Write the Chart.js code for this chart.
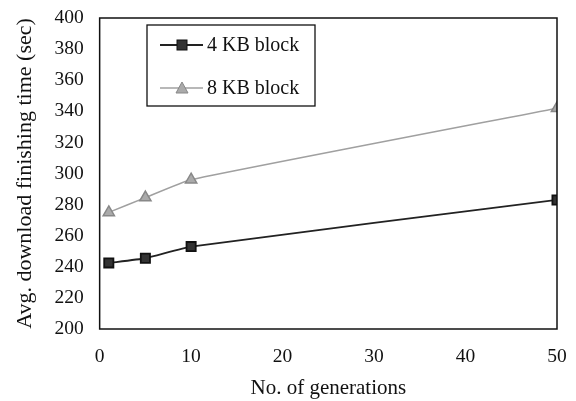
<!DOCTYPE html>
<html>
<head>
<meta charset="utf-8">
<script src="https://cdn.jsdelivr.net/npm/chart.js@4"></script>
<style>
  html, body { margin: 0; padding: 0; background: #fff; }
  #c { display: block; }
</style>
</head>
<body>
<canvas id="c" width="576" height="401"></canvas>
<script>
// data
const generations = [1, 5, 10, 50];
const block4kb = [242.5, 245.5, 253, 283];
const block8kb = [275, 284.5, 296, 342];
const seriesNames = ['4 KB block', '8 KB block'];
const xTicks = [0, 10, 20, 30, 40, 50];
const yTicks = [200, 220, 240, 260, 280, 300, 320, 340, 360, 380, 400];

const FONT = '"Liberation Serif", "DejaVu Serif", serif';

const toPoints = (ys) => generations.map((g, i) => ({ x: g, y: ys[i] }));

// frame round the plot plus the boxed legend inside it
const framePlugin = {
    id: 'frame',
    afterDraw(chart) {
        const ctx = chart.ctx;
        const a = chart.chartArea;
        ctx.save();
        ctx.strokeStyle = '#111';
        ctx.lineWidth = 1.5;
        ctx.strokeRect(a.left, a.top, a.right - a.left, a.bottom - a.top);

        // legend box
        const bx = 147, by = 25, bw = 168, bh = 81;
        ctx.lineWidth = 1.3;
        ctx.fillStyle = '#fff';
        ctx.fillRect(bx, by, bw, bh);
        ctx.strokeRect(bx, by, bw, bh);

        chart.data.datasets.forEach((ds, i) => {
            const cy = by + 20 + i * 43;
            const mx = bx + 35;
            ctx.strokeStyle = ds.borderColor;
            ctx.lineWidth = ds.borderWidth;
            ctx.beginPath();
            ctx.moveTo(bx + 13, cy);
            ctx.lineTo(bx + 56, cy);
            ctx.stroke();
            ctx.fillStyle = ds.pointBackgroundColor;
            ctx.strokeStyle = ds.pointBorderColor;
            ctx.lineWidth = 1;
            if (ds.pointStyle === 'rect') {
                ctx.fillRect(mx - 5, cy - 5, 10, 10);
                ctx.strokeRect(mx - 5, cy - 5, 10, 10);
            } else {
                ctx.beginPath();
                ctx.moveTo(mx, cy - 6);
                ctx.lineTo(mx + 6, cy + 5);
                ctx.lineTo(mx - 6, cy + 5);
                ctx.closePath();
                ctx.fill();
                ctx.stroke();
            }
            ctx.fillStyle = '#111';
            ctx.font = '20px ' + FONT;
            ctx.textBaseline = 'middle';
            ctx.fillText(ds.label, bx + 60, cy + 1);
        });
        ctx.restore();
    }
};

new Chart(document.getElementById('c').getContext('2d'), {
    type: 'line',
    data: {
        datasets: [{
            label: seriesNames[0],
            data: toPoints(block4kb),
            borderColor: '#222',
            borderWidth: 1.8,
            pointStyle: 'rect',
            pointRadius: 6.5,
            pointBackgroundColor: '#333',
            pointBorderColor: '#111',
            fill: false,
        }, {
            label: seriesNames[1],
            data: toPoints(block8kb),
            borderColor: '#a0a0a0',
            borderWidth: 1.5,
            pointStyle: 'triangle',
            pointRadius: 6.5,
            pointBackgroundColor: '#aaa',
            pointBorderColor: '#888',
            fill: false,
        }]
    },
    options: {
        responsive: false,
        animation: false,
        tension: 0.15,
        layout: { padding: { top: 0, right: 19, left: 12, bottom: 0 } },
        plugins: { legend: { display: false }, tooltip: { enabled: false } },
        scales: {
            x: {
                type: 'linear',
                min: 0, max: 50,
                afterBuildTicks: (s) => { s.ticks = xTicks.map(v => ({ value: v })); },
                // pin the axis band so the plot bottom lands where the figure has it
                afterFit: (s) => { s.height = 72; s.paddingLeft = 0; s.paddingRight = 0; },
                grid: { display: false, drawTicks: false },
                border: { display: false },
                ticks: { color: '#111', font: { family: FONT, size: 19.5 }, padding: 16, maxRotation: 0 },
                title: { display: true, text: 'No. of generations', color: '#111', font: { family: FONT, size: 21 }, padding: { top: 0, bottom: 0 } }
            },
            y: {
                min: 200, max: 400,
                afterBuildTicks: (s) => { s.ticks = yTicks.map(v => ({ value: v })); },
                afterFit: (s) => { s.paddingTop = 18; s.paddingBottom = 0; },
                grid: { display: false, drawTicks: false },
                border: { display: false },
                ticks: { color: '#111', font: { family: FONT, size: 19.5 }, padding: 16 },
                title: { display: true, text: 'Avg. download finishing time (sec)', color: '#111', font: { family: FONT, size: 22 }, padding: { top: 0, bottom: 0 } }
            }
        }
    },
    plugins: [framePlugin]
});
</script>
</body>
</html>
